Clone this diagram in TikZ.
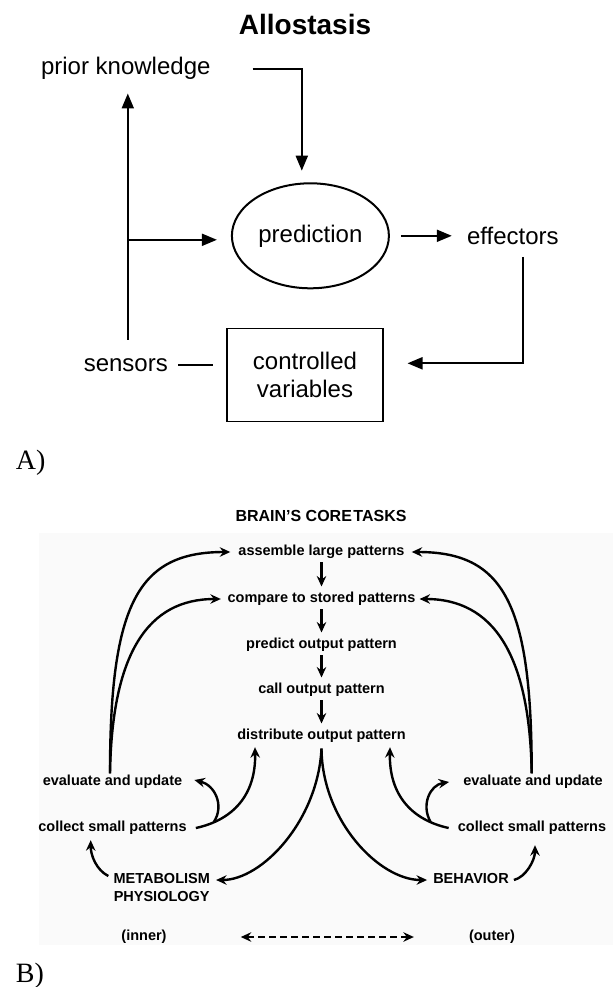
\documentclass[tikz,border=0pt]{standalone}
\usepackage{fontspec}
\setmainfont{Liberation Sans}
\newfontfamily\serifface{Liberation Serif}
\usetikzlibrary{arrows.meta,shapes.geometric}

\tikzset{
  atip/.tip={Triangle[length=15pt,width=12pt]},
  btip/.tip={Stealth[length=10.5pt,width=9.5pt,inset=3.5pt]},
}

\begin{document}
\begin{tikzpicture}[x=1pt,y=-1pt,
  every node/.style={inner sep=2pt},
  atext/.style={font=\fontsize{24}{28}\selectfont, text height=17.5pt, text depth=5pt, anchor=base},
  aline/.style={line width=2pt},
  aarrow/.style={aline, -atip},
  btext/.style={font=\fontsize{14.5}{16}\selectfont\bfseries, text height=10pt, text depth=3pt},
  bline/.style={line width=2.4pt, -btip},
  panellabel/.style={font=\serifface\fontsize{28}{30}\selectfont, anchor=base west, inner sep=0pt}
]
\useasboundingbox (0,0) rectangle (613,987);
\fill[white] (0,0) rectangle (613,987);

% ---------------- Panel A: allostasis loop ----------------
\node[font=\fontsize{28}{32}\selectfont\bfseries, anchor=base] (title) at (305,35) {Allostasis};
\node[atext] (pk) at (125.8,75) {prior knowledge};
\node[draw, ellipse, aline, minimum width=157pt, minimum height=105pt, inner sep=0pt,
      font=\fontsize{24}{28}\selectfont, text height=17.5pt, text depth=5pt] (pred) at (310.4,235.8) {prediction};
\node[atext] (eff) at (512.8,244) {effectors};
\node[draw, line width=1.6pt, minimum width=156pt, minimum height=93pt, align=center,
      font=\fontsize{24}{28}\selectfont] (box) at (305,375) {controlled\\variables};
\node[atext] (sens) at (125.8,371) {sensors};

\draw[aarrow] ([xshift=40pt]pk.east) -| ([xshift=-8.6pt,yshift=11.6pt]pred.north);
\draw[aarrow] ([xshift=2pt,yshift=11.5pt]sens.north) -- ([xshift=2pt,yshift=-11.3pt]pk.south);
\draw[aarrow] ([xshift=2pt,yshift=-4pt]sens.north |- pred.west) -- ([xshift=-14pt,yshift=-4pt]pred.west);
\draw[aarrow] ([xshift=11pt]pred.east) -- ([xshift=-13pt]eff.west |- pred.east);
\draw[aarrow] ([xshift=9.8pt,yshift=-5.7pt]eff.south) |- ([xshift=23.7pt,yshift=11.7pt]box.east);
\draw[aline] ([xshift=8pt]sens.east) -- ([xshift=-13pt]box.west |- sens.east);

\node[panellabel] (la) at (15.7,469) {A)};

% ---------------- Panel B: core tasks ----------------
\fill[black!2] (39,533) rectangle (613,945);

\node[font=\fontsize{16}{18}\selectfont\bfseries, anchor=base] (btitle) at (321,521.7) {BRAIN’S CORE\hspace{1.5pt}TASKS};
\node[btext] (asm) at (321.5,552) {assemble large patterns};
\node[btext] (cmp) at (321.5,599) {compare to stored patterns};
\node[btext] (prd) at (321.5,645) {predict output pattern};
\node[btext] (cal) at (321.5,690) {call output pattern};
\node[btext] (dst) at (321.5,736) {distribute output pattern};
\node[btext] (evL) at (112.5,782) {evaluate and update};
\node[btext] (colL) at (112.5,828) {collect small patterns};
\node[btext] (evR) at (533,782) {evaluate and update};
\node[btext] (colR) at (532,828) {collect small patterns};
\node[btext] (met) at (161.7,880) {METABOLISM};
\node[btext] (phy) at (161.7,898) {PHYSIOLOGY};
\node[btext] (beh) at (471,880) {BEHAVIOR};
\node[btext] (inner) at (144,937) {(inner)};
\node[btext] (outer) at (492,937) {(outer)};

% central chain
\foreach \a/\b in {asm/cmp,cmp/prd,prd/cal,cal/dst}
  \draw[bline, shorten <=1.5pt, shorten >=3.8pt] (\a.south) -- (\a.south |- \b.north);

% output split
\draw[bline] ([yshift=-3.8pt]dst.south) .. controls +(-3.5,72) and +(46,0) .. ([xshift=4pt]met.east);
\draw[bline] ([yshift=-3.8pt]dst.south) .. controls +(0.5,72) and +(-48,0) .. ([xshift=-4pt]beh.west);

% long feedback arcs
\draw[bline] ([xshift=-2.5pt]evL.north) .. controls +(0,-170) and +(-92,0) .. ([xshift=-6pt]asm.west);
\draw[bline] ([xshift=-2.5pt]evL.north) .. controls +(2,-120) and +(-73,0) .. ([xshift=-4.6pt]cmp.west);
\draw[bline] ([xshift=-1.3pt]evR.north) .. controls +(0,-170) and +(92,0) .. ([xshift=5pt]asm.east);
\draw[bline] ([xshift=-1.3pt]evR.north) .. controls +(-2,-120) and +(73,0) .. ([xshift=2pt]cmp.east);

% inner side loops
\draw[bline] ([xshift=7pt]colL.east) .. controls +(37,-8) and +(1,48) .. ([xshift=-66.5pt,yshift=-2.5pt]dst.south);
\draw[bline] ([xshift=25pt,yshift=6pt]colL.east) .. controls +(11,-17) and +(20,5) .. ([xshift=10pt,yshift=2pt]evL.east);
\draw[bline] ([xshift=-3pt,yshift=4pt]met.west) .. controls +(-12,-6) and +(0,15) .. ([xshift=-21.8pt,yshift=-3.5pt]colL.south);

% outer side loops
\draw[bline] ([xshift=-7pt]colR.west) .. controls +(-36.7,-8) and +(-1,48) .. ([xshift=68.5pt,yshift=-2.5pt]dst.south);
\draw[bline] ([xshift=-25pt,yshift=6pt]colR.west) .. controls +(-10,-17) and +(-19,3) .. ([xshift=-12pt]evR.west);
\draw[bline] ([xshift=3pt]beh.east) .. controls +(12,-3) and +(0,15) .. ([xshift=3pt,yshift=-8.5pt]colR.south);

% inner/outer axis
\draw[line width=2.4pt, dash pattern=on 7pt off 4pt, btip-btip] ([xshift=72pt]inner.east) -- ([xshift=-53pt]outer.west);

\node[panellabel] (lb) at (15.7,982) {B)};
\end{tikzpicture}
\end{document}
